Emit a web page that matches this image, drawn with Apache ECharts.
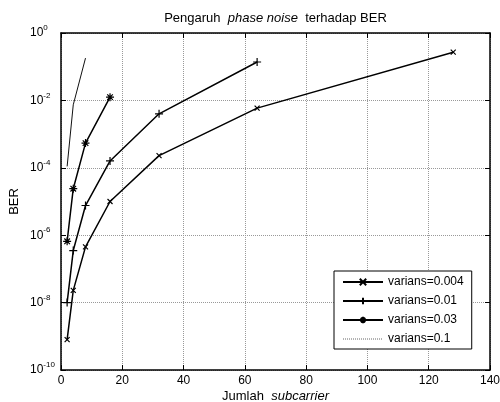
<!DOCTYPE html>
<html lang="id">
<head>
  <meta charset="UTF-8">
  <title>Pengaruh phase noise terhadap BER</title>
  <style>
    html, body { margin: 0; padding: 0; background: #fff; }
    #chart { width: 500px; height: 402px; }
  </style>
</head>
<body>
<div id="chart"></div>
<script src="https://cdn.jsdelivr.net/npm/echarts@6/dist/echarts.min.js"></script>
<script>
  // jumlah subcarrier per titik
  const subcarrier004 = [2, 4, 8, 16, 32, 64, 128];
  const subcarrier01 = [2, 4, 8, 16, 32, 64];
  const subcarrier03 = [2, 4, 8, 16];
  const subcarrier1 = [2, 4, 8];

  // BER
  const ber004 = [8e-10, 2.3e-8, 4.5e-7, 1e-5, 2.3e-4, 5.9e-3, 0.27];
  const ber01 = [1e-8, 3.5e-7, 7.6e-6, 1.6e-4, 4e-3, 0.138];
  const ber03 = [6.6e-7, 2.4e-5, 5.4e-4, 1.25e-2];
  const ber1 = [1.1e-4, 7.4e-3, 0.18];

  const seriesNames = ['varians=0.004', 'varians=0.01', 'varians=0.03', 'varians=0.1'];
  const xTicks = [0, 20, 40, 60, 80, 100, 120, 140];

  const FONT = '"Liberation Sans", Arial, sans-serif';
  const pairs = (xs, ys) => xs.map((x, i) => [x, ys[i]]);

  const markX = 'path://M0,0L10,10M10,0L0,10';
  const markPlus = 'path://M5,0L5,10M0,5L10,5';
  const markStar = 'path://M5,0L5,10M0,5L10,5M1.5,1.5L8.5,8.5M8.5,1.5L1.5,8.5';

  function lineSeries(name, data, symbol, size) {
    return {
      name: name,
      type: 'line',
      data: data,
      symbol: symbol,
      symbolSize: size,
      showSymbol: true,
      lineStyle: {color: '#000', width: 1.5},
      itemStyle: {color: '#000', borderColor: '#000', borderWidth: 1.2},
      emphasis: {disabled: true},
      animation: false,
      z: 3
    };
  }

  const nameRich = {
    n: {fontFamily: FONT, fontSize: 13, color: '#000'},
    i: {fontFamily: FONT, fontSize: 13, color: '#000', fontStyle: 'italic'}
  };

  const chart = echarts.init(document.getElementById('chart'));

  const option = {
    backgroundColor: '#fff',
    animation: false,
    textStyle: {fontFamily: FONT},
    grid: {left: 61, right: 10, top: 33, bottom: 32, containLabel: false, outerBoundsMode: 'none'},
    legend: {
      orient: 'vertical',
      left: 334,
      top: 271,
      padding: [5, 8, 4, 8],
      itemWidth: 40,
      itemHeight: 8,
      itemGap: 7,
      backgroundColor: '#fff',
      borderColor: '#000',
      borderWidth: 1,
      textStyle: {fontFamily: FONT, fontSize: 12, color: '#000'},
      data: [
        seriesNames[0],
        seriesNames[1],
        seriesNames[2],
        {name: seriesNames[3], itemStyle: {opacity: 0}, lineStyle: {type: [1, 1], color: '#666', width: 1}}
      ]
    },
    xAxis: [
      {
        type: 'value',
        min: xTicks[0],
        max: xTicks[xTicks.length - 1],
        interval: xTicks[1] - xTicks[0],
        position: 'bottom',
        name: '{n|Jumlah  }{i|subcarrier}',
        nameLocation: 'middle',
        nameGap: 20,
        nameMoveOverlap: false,
        nameTextStyle: {rich: nameRich},
        axisLine: {show: true, onZero: false, lineStyle: {color: '#000', width: 1.5}},
        axisTick: {show: true, inside: true, length: 5, lineStyle: {color: '#000'}},
        axisLabel: {fontFamily: FONT, fontSize: 12, color: '#000', margin: 5},
        splitLine: {show: true, lineStyle: {color: '#999', type: 'dotted', width: 1}}
      },
      {
        type: 'value',
        min: xTicks[0],
        max: xTicks[xTicks.length - 1],
        interval: xTicks[1] - xTicks[0],
        position: 'top',
        name: '{n|Pengaruh  }{i|phase noise}{n|  terhadap BER}',
        nameLocation: 'middle',
        nameGap: 8,
        nameTextStyle: {rich: nameRich},
        axisLine: {show: true, onZero: false, lineStyle: {color: '#000', width: 1.5}},
        axisTick: {show: true, inside: true, length: 5, lineStyle: {color: '#000'}},
        axisLabel: {show: false},
        splitLine: {show: false}
      }
    ],
    yAxis: [
      {
        type: 'log',
        logBase: 10,
        min: 1e-10,
        max: 1,
        interval: 2,
        position: 'left',
        name: 'BER',
        nameLocation: 'middle',
        nameGap: 40,
        nameMoveOverlap: false,
        nameTextStyle: {fontFamily: FONT, fontSize: 13, color: '#000'},
        axisLine: {show: true, onZero: false, lineStyle: {color: '#000', width: 1.5}},
        axisTick: {show: true, inside: true, length: 5, lineStyle: {color: '#000'}},
        minorTick: {show: false},
        axisLabel: {
          align: 'left',
          margin: 31,
          formatter: function (v) {
            const e = Math.round(Math.log10(v));
            return '{b|10}{s|' + e + '}';
          },
          rich: {
            b: {fontFamily: FONT, fontSize: 12, color: '#000', lineHeight: 12, padding: [3, 0, 3, 0]},
            s: {fontFamily: FONT, fontSize: 8, color: '#000', lineHeight: 8, padding: [0, 0, 10, 0]}
          }
        },
        splitLine: {show: true, lineStyle: {color: '#999', type: 'dotted', width: 1}}
      },
      {
        type: 'log',
        logBase: 10,
        min: 1e-10,
        max: 1,
        interval: 2,
        position: 'right',
        axisLine: {show: true, onZero: false, lineStyle: {color: '#000', width: 1.5}},
        axisTick: {show: true, inside: true, length: 5, lineStyle: {color: '#000'}},
        axisLabel: {show: false},
        splitLine: {show: false}
      }
    ],
    series: [
      lineSeries(seriesNames[0], pairs(subcarrier004, ber004), markX, 5),
      lineSeries(seriesNames[1], pairs(subcarrier01, ber01), markPlus, 8),
      lineSeries(seriesNames[2], pairs(subcarrier03, ber03), markStar, 8),
      {
        name: seriesNames[3],
        type: 'line',
        data: pairs(subcarrier1, ber1),
        showSymbol: false,
        symbol: 'none',
        lineStyle: {color: '#111', width: 1},
        itemStyle: {color: '#111'},
        emphasis: {disabled: true},
        animation: false,
        z: 3
      }
    ]
  };

  chart.setOption(option);
</script>
</body>
</html>
